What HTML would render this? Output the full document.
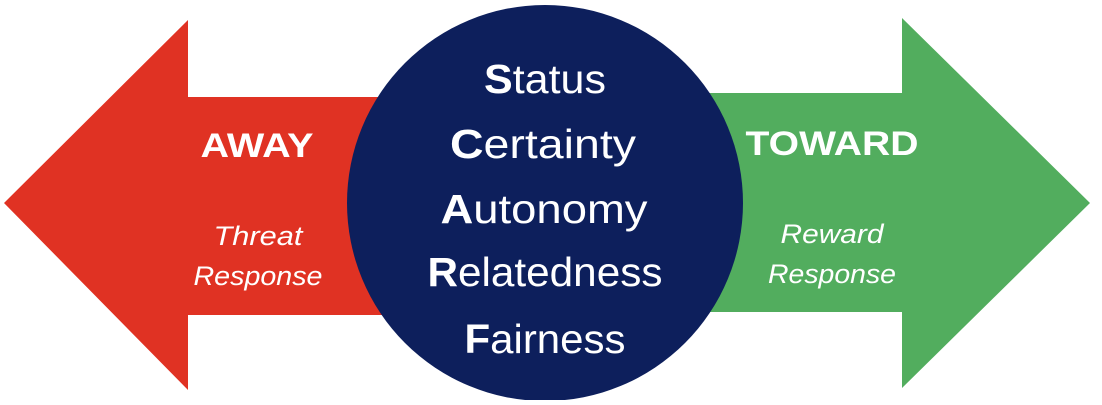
<!DOCTYPE html>
<html><head><meta charset="utf-8"><style>
html,body{margin:0;padding:0;background:#fff;}
body{width:1102px;height:400px;overflow:hidden;}
svg text{font-family:"Liberation Sans",sans-serif;}
</style></head><body>
<svg width="1102" height="400" viewBox="0 0 1102 400">
<polygon points="4,203 188,20 188,97 400,97 400,315 188,315 188,390" fill="#e03223"/>
<polygon points="1090,203 902,18 902,93 700,93 700,312 902,312 902,388" fill="#52ad5e"/>
<circle cx="545" cy="203" r="198" fill="#0d1f5c"/>
<g fill="#fff" text-anchor="middle">
<text x="257" y="157" font-size="34" font-weight="bold" textLength="113" lengthAdjust="spacingAndGlyphs">AWAY</text>
<text x="258" y="245" font-size="27" font-style="italic" textLength="89" lengthAdjust="spacingAndGlyphs">Threat</text>
<text x="258" y="285" font-size="27" font-style="italic" textLength="129" lengthAdjust="spacingAndGlyphs">Response</text>
<text x="832" y="155" font-size="34" font-weight="bold" textLength="173" lengthAdjust="spacingAndGlyphs">TOWARD</text>
<text x="832" y="243" font-size="27" font-style="italic" textLength="103" lengthAdjust="spacingAndGlyphs">Reward</text>
<text x="832" y="283" font-size="27" font-style="italic" textLength="128" lengthAdjust="spacingAndGlyphs">Response</text>
<g font-size="41">
<text x="545" y="93" textLength="122" lengthAdjust="spacingAndGlyphs"><tspan font-weight="bold">S</tspan>tatus</text>
<text x="543" y="158" textLength="186" lengthAdjust="spacingAndGlyphs"><tspan font-weight="bold">C</tspan>ertainty</text>
<text x="544" y="223" textLength="207" lengthAdjust="spacingAndGlyphs"><tspan font-weight="bold">A</tspan>utonomy</text>
<text x="545" y="286" textLength="235" lengthAdjust="spacingAndGlyphs"><tspan font-weight="bold">R</tspan>elatedness</text>
<text x="545" y="353" textLength="161" lengthAdjust="spacingAndGlyphs"><tspan font-weight="bold">F</tspan>airness</text>
</g></g>
</svg>
</body></html>
